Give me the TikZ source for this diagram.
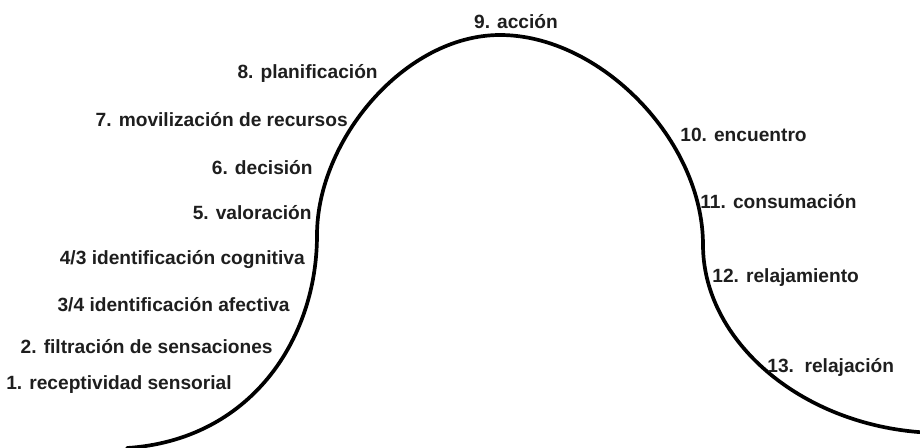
\documentclass[tikz,border=0pt]{standalone}
\usepackage{fontspec}
\setmainfont{Liberation Sans}
\usepackage{tikz}
\usetikzlibrary{positioning}
\definecolor{labelink}{HTML}{1E1E1E}

\begin{document}
\begin{tikzpicture}[
  lbl/.style={font=\bfseries\fontsize{10.9}{13}\selectfont, text=labelink, inner sep=0pt},
  curve/.style={line width=2.1pt, black, line cap=round}
]
\useasboundingbox (0,0) rectangle (18.4,8.94);

% the arc
\coordinate (foot) at (2.54,-0.02);
\coordinate (riseturn) at (6.34,4.24);
\coordinate (peak) at (10.0,8.24);
\coordinate (fallturn) at (14.06,4.04);
\coordinate (tail) at (18.5,0.29);
\draw[curve] (foot)
  .. controls (5.0,0.14) and (6.34,2.14) .. (riseturn)
  .. controls (6.34,6.14) and (8.1,8.24) .. (peak)
  .. controls (12.0,8.24) and (14.06,6.14) .. (fallturn)
  .. controls (14.06,2.14) and (16.0,0.44) .. (tail);

% rising side
\node[lbl, anchor=east] (s1) at (4.64,1.24) {1. receptividad sensorial};
\node[lbl, anchor=east] (s2) at (5.46,2.0) {2. filtración de sensaciones};
\node[lbl, anchor=east] (s34) at (5.80,2.84) {3/4 identificación afectiva};
\node[lbl, anchor=east] (s43) at (6.10,3.74) {4/3 identificación cognitiva};
\node[lbl, anchor=east] (s5) at (6.24,4.68) {5. valoración};
\node[lbl, anchor=east] (s6) at (6.26,5.58) {6. decisión};
\node[lbl, anchor=east] (s7) at (6.96,6.54) {7. movilización de recursos};
\node[lbl, anchor=east] (s8) at (7.56,7.48) {8. planificación};

% top
\node[lbl] (s9) at (10.32,8.5) {9. acción};

% falling side
\node[lbl, anchor=west] (s10) at (13.6,6.24) {10. encuentro};
\node[lbl, anchor=west] (s11) at (14.0,4.9) {11. consumación};
\node[lbl, anchor=west] (s12) at (14.24,3.38) {12. relajamiento};
\node[lbl, anchor=west] (s13) at (15.34,1.6) {13.\ \ relajación};
\end{tikzpicture}
\end{document}
